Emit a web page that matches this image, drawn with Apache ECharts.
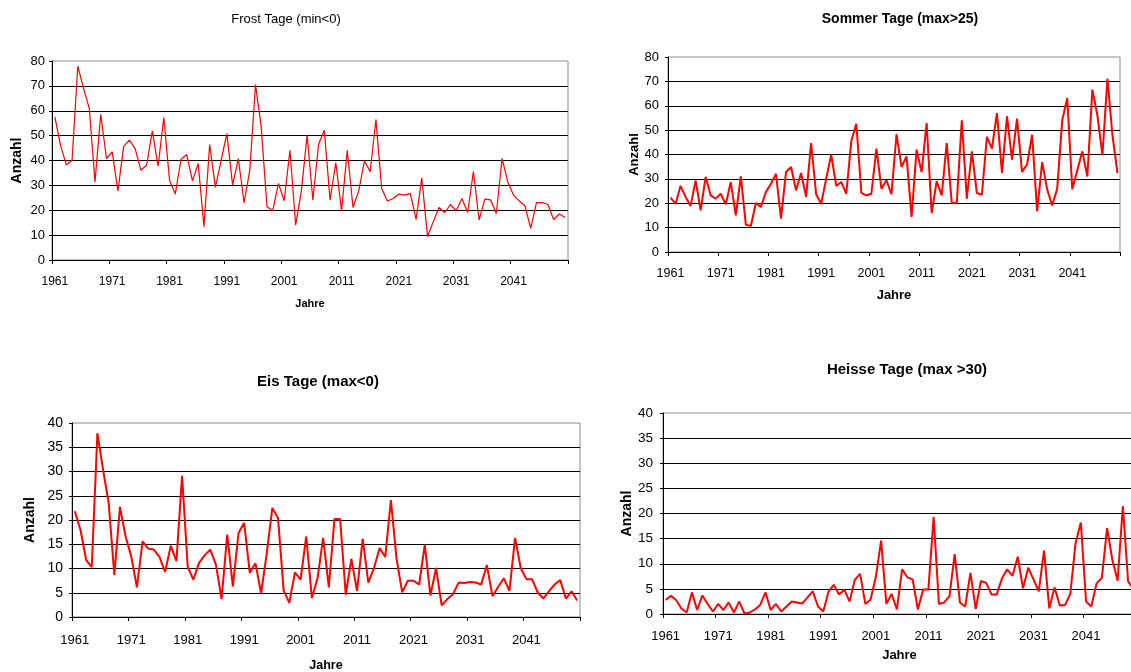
<!DOCTYPE html>
<html>
<head>
<meta charset="utf-8">
<script src="https://cdn.jsdelivr.net/npm/echarts@6/dist/echarts.min.js"></script>
<style>
  html, body { margin: 0; padding: 0; background: #fff; overflow: hidden; }
  #chart { width: 1131px; height: 672px; }
</style>
</head>
<body>
<div id="chart"></div>
<script>
// Jahre 1961 bis 2050
const years = Array.from({ length: 90 }, (_, i) => String(1961 + i));

// Frosttage (min < 0)
const frostTage = [
  57.5, 46, 38.3, 40, 77.9, 69, 61, 31.4, 58.6, 40.8,
  43.5, 27.8, 45.7, 48.2, 44.8, 36.1, 38.1, 51.9, 37.7, 57.3,
  32.1, 26.5, 40.4, 42.4, 31.8, 38.8, 13.4, 46.4, 29.2, 40.1,
  50.8, 30.1, 40.8, 23, 36.1, 70.5, 53.2, 21.4, 19.8, 30.8,
  23.8, 44.1, 14, 28, 50.2, 24.1, 46.6, 52.2, 24.1, 39.1,
  19.8, 44.1, 21.1, 27.8, 39.9, 35.5, 56.5, 28.8, 23.7, 24.7,
  26.5, 26.1, 26.8, 16.3, 33, 9.4, 15.4, 21.1, 19.1, 22.3,
  19.8, 24.7, 19.1, 35.5, 16.1, 24.5, 24.2, 18.7, 40.8, 31.4,
  26.1, 23.7, 21.8, 12.7, 23.1, 23.1, 22.3, 16.3, 18.5, 17.1
];

// Sommertage (max > 25)
const sommerTage = [
  22.3, 19.8, 27.1, 22.6, 18.9, 29.4, 17.1, 30.8, 23.2, 21.9,
  23.9, 19.6, 28.7, 15, 31, 11.2, 10.7, 20.1, 18.5, 24.6,
  28, 32.1, 13.7, 32.8, 34.9, 25.3, 32.4, 22.6, 44.7, 23.7,
  19.8, 30.1, 39.9, 27.1, 28.7, 23.9, 45.5, 52.6, 24.3, 23.2,
  23.9, 42.4, 26, 29.4, 23.7, 48.3, 34.9, 39.2, 14.4, 42,
  32.8, 52.9, 16, 29.1, 23.2, 44.7, 20.2, 20.2, 54, 21.9,
  41.3, 24.2, 23.5, 47.2, 42.4, 57, 32.4, 55.7, 37.9, 54.7,
  32.8, 36, 48.1, 16.7, 36.9, 25.7, 19.1, 26, 54, 63.2,
  25.7, 33.5, 41.3, 31, 66.6, 56.1, 39.7, 71.1, 47.9, 32.4
];

// Eistage (max < 0)
const eisTage = [
  21.8, 18, 11.8, 10.3, 37.9, 30.4, 23.5, 8.7, 22.7, 16.6,
  12.5, 6.1, 15.6, 14.1, 13.9, 12.4, 9.3, 14.7, 11.5, 29.1,
  10.4, 7.7, 11.1, 12.7, 13.9, 10.8, 3.7, 17, 6.3, 17.3,
  19.4, 9.1, 11.1, 4.9, 13.1, 22.5, 20.4, 5.5, 2.9, 9.2,
  7.7, 16.6, 3.9, 8, 16.3, 6.1, 20.2, 20.2, 4.6, 12,
  5.4, 16.1, 7.1, 10.1, 14.2, 12.4, 24.1, 12, 5.1, 7.5,
  7.5, 6.7, 14.9, 4.4, 10.1, 2.4, 3.7, 4.7, 7.1, 7,
  7.2, 7.1, 6.7, 10.7, 4.3, 6.2, 8, 5.4, 16.3, 10.1,
  7.8, 7.8, 5.1, 3.8, 5.3, 6.7, 7.6, 3.8, 5.3, 3.4
];

// Heisse Tage (max > 30)
const heisseTage = [
  2.8, 3.6, 2.8, 1.1, 0.3, 4.3, 0.8, 3.7, 2, 0.5,
  2, 0.8, 2.3, 0.3, 2.5, 0.1, 0.3, 0.9, 1.8, 4.3,
  0.8, 2, 0.5, 1.5, 2.5, 2.3, 2.1, 3.3, 4.5, 1.5,
  0.5, 4.5, 5.8, 3.9, 4.8, 2.5, 6.8, 8, 2, 2.9,
  7.4, 14.6, 2, 4, 0.9, 8.9, 7.3, 6.9, 0.9, 4.9,
  4.9, 19.3, 2, 2.3, 3.5, 11.9, 2.3, 1.5, 8.2, 1,
  6.6, 6.2, 3.9, 3.9, 7.1, 8.9, 7.6, 11.4, 5.1, 9.2,
  6.9, 4.5, 12.6, 1.1, 5.3, 1.7, 1.8, 4, 14.1, 18.2,
  2.5, 1.5, 6.1, 7.2, 17.1, 10.8, 6.6, 21.5, 6.5, 5
];

// Titel der vier Diagramme
const titles = ['Frost Tage (min<0)', 'Sommer Tage (max>25)', 'Eis Tage (max<0)', 'Heisse Tage (max >30)'];
const yName = 'Anzahl';
const xName = 'Jahre';

const FONT = "'Liberation Sans', Arial, sans-serif";

// Layout der Teilbilder (das vierte reicht rechts über den Rand hinaus)
const panels = [
  { grid: { left: 52, top: 61, width: 516, height: 199 }, max: 80, step: 10, data: frostTage,
    yFont: 13, xFont: 12, yNameFont: 14, yNameGap: 28, xNameFont: 11, xNameGap: 38.5, xMargin: 16, yMargin: 7,
    lineWidth: 1.2, title: { x: 286, y: 19, size: 13, weight: 'normal' } },
  { grid: { left: 668, top: 57, width: 452, height: 195 }, max: 80, step: 10, data: sommerTage,
    yFont: 13, xFont: 12.5, yNameFont: 13, yNameGap: 26.5, xNameFont: 13, xNameGap: 36.5, xMargin: 15, yMargin: 9,
    lineWidth: 2, title: { x: 900, y: 19, size: 14, weight: 'bold' } },
  { grid: { left: 72, top: 423, width: 508, height: 194 }, max: 40, step: 5, data: eisTage,
    yFont: 14, xFont: 13, yNameFont: 14, yNameGap: 35, xNameFont: 12.5, xNameGap: 42, xMargin: 16.5, yMargin: 9,
    lineWidth: 2, title: { x: 318, y: 382, size: 15, weight: 'bold' } },
  { grid: { left: 663, top: 413, width: 473, height: 201 }, max: 40, step: 5, data: heisseTage,
    yFont: 13.5, xFont: 13, yNameFont: 14, yNameGap: 23.5, xNameFont: 13, xNameGap: 34.5, xMargin: 15.5, yMargin: 10,
    lineWidth: 2, title: { x: 907, y: 370, size: 15, weight: 'bold' } }
];

const chart = echarts.init(document.getElementById('chart'), null, { renderer: 'canvas' });

const option = {
  animation: false,
  backgroundColor: '#ffffff',
  textStyle: { fontFamily: FONT },
  grid: panels.map(p => Object.assign({
    show: true, borderColor: '#8a8a8a', borderWidth: 1, backgroundColor: 'transparent',
    containLabel: false, outerBoundsMode: 'none'
  }, p.grid)),
  xAxis: panels.map((p, i) => ({
    type: 'category',
    gridIndex: i,
    data: years,
    boundaryGap: true,
    name: xName,
    nameLocation: 'middle',
    nameGap: p.xNameGap,
    nameTextStyle: { fontFamily: FONT, fontWeight: 'bold', fontSize: p.xNameFont, color: '#000' },
    axisLine: { show: true, lineStyle: { color: '#000', width: 1 } },
    axisTick: { show: true, interval: 9, length: 4, lineStyle: { color: '#000' } },
    axisLabel: { interval: 9, color: '#000', fontFamily: FONT, fontSize: p.xFont, margin: p.xMargin },
    splitLine: { show: false }
  })),
  yAxis: panels.map((p, i) => ({
    type: 'value',
    gridIndex: i,
    min: 0,
    max: p.max,
    interval: p.step,
    name: yName,
    nameLocation: 'middle',
    nameGap: p.yNameGap,
    nameTextStyle: { fontFamily: FONT, fontWeight: 'bold', fontSize: p.yNameFont, color: '#000' },
    axisLine: { show: true, lineStyle: { color: '#000', width: 1 } },
    axisTick: { show: true, length: 3, lineStyle: { color: '#000' } },
    axisLabel: { color: '#000', fontFamily: FONT, fontSize: p.yFont, margin: p.yMargin },
    splitLine: { show: true, showMaxLine: false, lineStyle: { color: '#000', width: 1 } }
  })),
  series: panels.map((p, i) => ({
    type: 'line',
    xAxisIndex: i,
    yAxisIndex: i,
    data: p.data,
    symbol: 'none',
    smooth: false,
    lineStyle: { color: '#ff0000', width: p.lineWidth },
    itemStyle: { color: '#ff0000' }
  })),
  graphic: panels.map((p, i) => ({
    type: 'text',
    x: p.title.x,
    y: p.title.y,
    style: {
      text: titles[i],
      fill: '#000',
      font: `${p.title.weight} ${p.title.size}px ${FONT}`,
      textAlign: 'center',
      textVerticalAlign: 'middle'
    }
  }))
};

chart.setOption(option);
</script>
</body>
</html>
